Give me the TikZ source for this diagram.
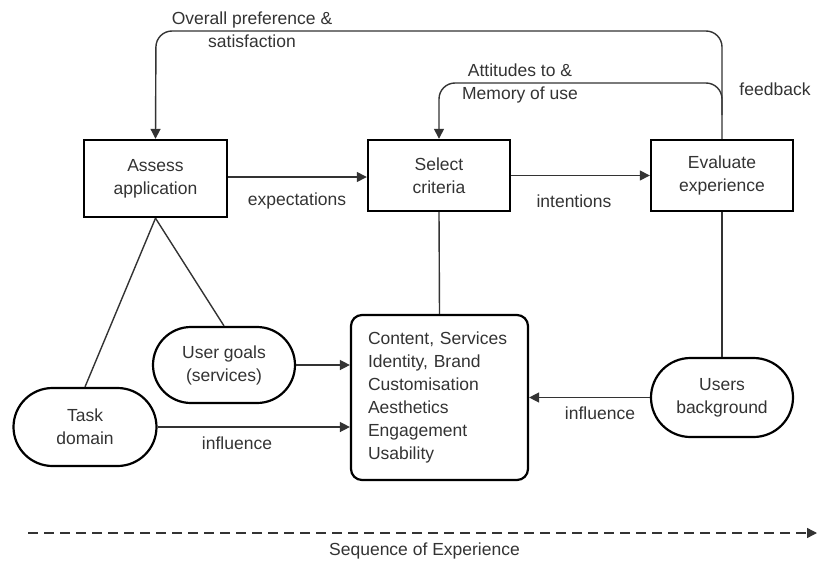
\documentclass[tikz,border=0pt]{standalone}
\usepackage{fontspec}
\setmainfont{Liberation Sans}
\usetikzlibrary{arrows.meta}
\begin{document}
\begin{tikzpicture}[x=1pt,y=-1pt,
  every node/.style={font=\fontsize{17.5}{23}\selectfont, text=black!80, inner sep=0pt},
  stepbox/.style={draw, line width=2.4pt, minimum width=143pt, align=center},
  pill/.style={draw, line width=2.2pt, rounded corners=38pt, minimum width=142pt, align=center},
  conn/.style={line width=1.4pt, draw=black!80},
  arr/.style={conn, -{Triangle[length=10pt,width=10pt]}},
  lbl/.style={align=center}]
\useasboundingbox (0,0) rectangle (817,562);
% main boxes
\node[stepbox, minimum height=77pt] (assess) at (155.5,178.5) {Assess\\application};
\node[stepbox, minimum width=142pt, minimum height=71pt] (select) at (439,175.5) {Select\\criteria};
\node[stepbox, minimum width=142pt, minimum height=71pt] (eval) at (722,175.5) {Evaluate\\experience};
% pills
\node[pill, minimum height=76pt] (goals) at (224,365) {User goals\\(services)};
\node[pill, minimum width=143pt, minimum height=78pt, rounded corners=39pt] (task) at (85,427) {Task\\domain};
\node[pill, minimum height=79pt, rounded corners=39.5pt] (users) at (722,397.5) {Users\\background};
% content box
\node[draw, line width=2.2pt, rounded corners=11pt, minimum width=177pt, minimum height=165pt,
      align=left, text width=143pt] (content) at (439.5,397.5)
  {Content, Services\\Identity, Brand\\Customisation\\Aesthetics\\Engagement\\Usability};
% horizontal arrows
\draw[arr] (assess.east |- 0,177) -- (select.west |- 0,177);
\draw[arr] (select.east) -- (eval.west);
\node[lbl] (lexp) at (297,201) {expectations};
\node[lbl] (lint) at (574,201) {intentions};
% feedback loops
\coordinate (top1) at (722,31);
\coordinate (top2) at (156,31);
\draw[arr, rounded corners=16pt] (eval.north) -- (top1) -- (top2) -- (assess.north);
\coordinate (jn) at (722,115);
\coordinate (att1) at (722,83);
\coordinate (att2) at (439,83);
\draw[arr, rounded corners=16pt] (jn) -- (att1) -- (att2) -- (select.north);
\node[lbl] (lover) at (252,29.5) {Overall preference \&\\satisfaction};
\node[lbl] (latt) at (520,83) {Attitudes to \&\\Memory of use};
\node[lbl] (lfb) at (775,89) {feedback};
% vertical / diagonal lines
\draw[conn] (select.south) -- (content.north);
\draw[conn] (eval.south) -- (users.north);
\draw[conn] (assess.south) -- (task.north);
\draw[conn] (assess.south) -- (goals.north);
% influence arrows
\draw[arr] (goals.east) -- (goals.east -| content.west);
\draw[arr] (task.east) -- (task.east -| content.west);
\draw[arr] (users.west) -- (users.west -| content.east);
\node[lbl] (linf1) at (237,443) {influence};
\node[lbl] (linf2) at (600,413) {influence};
% sequence
\coordinate (s1) at (28,533);
\coordinate (s2) at (817,533);
\draw[conn, dash pattern=on 10pt off 6pt, -{Triangle[length=10pt,width=10pt]}] (s1) -- (s2);
\node[lbl] (lseq) at (424.5,551) {Sequence of Experience};
\end{tikzpicture}
\end{document}
